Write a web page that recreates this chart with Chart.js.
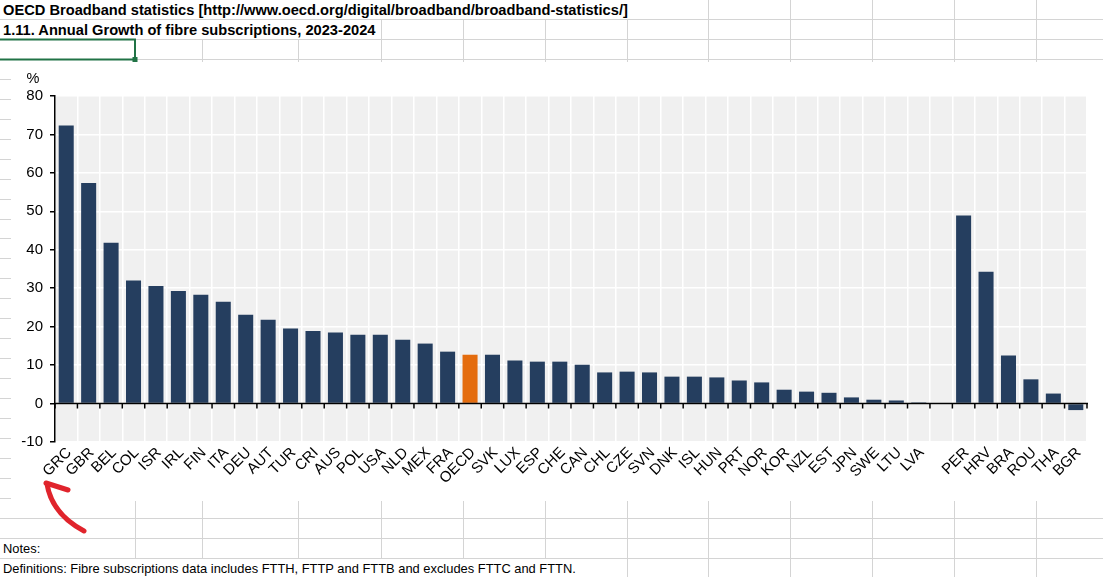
<!DOCTYPE html>
<html>
<head>
<meta charset="utf-8">
<script src="https://cdn.jsdelivr.net/npm/chart.js@4.4.1/dist/chart.umd.min.js"></script>
<style>
  html, body { margin: 0; padding: 0; background: #fff; }
  body { width: 1103px; height: 577px; position: relative; overflow: hidden; font-family: Arial, "Liberation Sans", sans-serif; }
  svg { position: absolute; left: 0; top: 0; }
  #sheet { z-index: 0; }
  #box { position: absolute; left: 11px; top: 62px; width: 1092px; height: 439px; background: #fff; z-index: 1; }
  #overlay { z-index: 2; pointer-events: none; }
</style>
</head>
<body>
<svg id="sheet" width="1103" height="577"></svg>
<div id="box"><canvas id="growthChart"></canvas></div>
<svg id="overlay" width="1103" height="577">
  <path d="M 84 531 Q 52 514 47 484" fill="none" stroke="#e0242c" stroke-width="5" stroke-linecap="round"/>
  <path d="M 46 483 L 68 490" fill="none" stroke="#e0242c" stroke-width="5" stroke-linecap="round"/>
</svg>
<script>
const categories = ['GRC', 'GBR', 'BEL', 'COL', 'ISR', 'IRL', 'FIN', 'ITA', 'DEU', 'AUT',
  'TUR', 'CRI', 'AUS', 'POL', 'USA', 'NLD', 'MEX', 'FRA', 'OECD', 'SVK',
  'LUX', 'ESP', 'CHE', 'CAN', 'CHL', 'CZE', 'SVN', 'DNK', 'ISL', 'HUN',
  'PRT', 'NOR', 'KOR', 'NZL', 'EST', 'JPN', 'SWE', 'LTU', 'LVA', '',
  'PER', 'HRV', 'BRA', 'ROU', 'THA', 'BGR'];
const growth = [72.3, 57.4, 41.8, 32.0, 30.6, 29.3, 28.3, 26.5, 23.1, 21.8,
  19.5, 18.9, 18.5, 17.9, 17.9, 16.6, 15.6, 13.5, 12.7, 12.7,
  11.2, 10.9, 10.9, 10.1, 8.1, 8.3, 8.1, 7.0, 7.0, 6.8,
  6.0, 5.5, 3.6, 3.1, 2.8, 1.6, 1.0, 0.8, 0.3, null,
  48.9, 34.3, 12.5, 6.3, 2.6, -1.7];
const yMin = -10;
const yMax = 80;
const yStep = 10;
const highlight = 'OECD';

const sheetTitle = 'OECD Broadband statistics [http://www.oecd.org/digital/broadband/broadband-statistics/]';
const chartTitle = '1.11. Annual Growth of fibre subscriptions, 2023-2024';
const notesText = 'Notes:';
const defsText = 'Definitions: Fibre subscriptions data includes FTTH, FTTP and FTTB and excludes FTTC and FTTN.';

const navy = '#253e5f';
const orange = '#e46c0e';

// spreadsheet grid behind the chart
const svgNS = 'http://www.w3.org/2000/svg';
const sheet = document.getElementById('sheet');
function line(x1, y1, x2, y2, color) {
  const l = document.createElementNS(svgNS, 'line');
  l.setAttribute('x1', x1); l.setAttribute('y1', y1);
  l.setAttribute('x2', x2); l.setAttribute('y2', y2);
  l.setAttribute('stroke', color || '#d4d4d4');
  l.setAttribute('stroke-width', 1);
  sheet.appendChild(l);
}
function text(str, x, y, bold, size) {
  const t = document.createElementNS(svgNS, 'text');
  t.setAttribute('x', x); t.setAttribute('y', y);
  t.setAttribute('font-family', 'Arial, Liberation Sans, sans-serif');
  t.setAttribute('font-size', size);
  if (bold) t.setAttribute('font-weight', 'bold');
  t.textContent = str;
  sheet.appendChild(t);
}
const cols = [135, 202, 298, 381, 463, 545, 627, 708, 790, 872, 954, 1036];
const rows = [];
for (let k = 1; k <= 28; k++) rows.push(Math.floor(19.5 + (k - 1) * 19.95) + 0.5);
rows.forEach(y => line(0, y, 1103, y));
cols.forEach(c => {
  const x = c + 0.5;
  if (c >= 708) line(x, 0, x, rows[0]);
  if (c >= 381) line(x, rows[0], x, rows[1]);
  line(x, rows[1], x, rows[27]);
  if (c >= 627) line(x, rows[27], x, 577);
});
const sel = document.createElementNS(svgNS, 'rect');
sel.setAttribute('x', -2); sel.setAttribute('y', 39.5);
sel.setAttribute('width', 137); sel.setAttribute('height', 20);
sel.setAttribute('fill', 'none'); sel.setAttribute('stroke', '#217346'); sel.setAttribute('stroke-width', 2);
sheet.appendChild(sel);
const handle = document.createElementNS(svgNS, 'rect');
handle.setAttribute('x', 132.5); handle.setAttribute('y', 57);
handle.setAttribute('width', 5); handle.setAttribute('height', 5);
handle.setAttribute('fill', '#217346');
sheet.appendChild(handle);
text(sheetTitle, 3, 15, true, 14.67);
text(chartTitle, 3, 35, true, 14.67);
text(notesText, 3, 553, false, 12.9);
text(defsText, 3, 573, false, 12.9);

const plotBg = {
  id: 'plotBg',
  beforeDraw(chart) {
    const { ctx, chartArea: a } = chart;
    ctx.save();
    ctx.fillStyle = '#f0f0f0';
    ctx.fillRect(a.left, a.top, a.right - a.left, a.bottom - a.top);
    ctx.restore();
  }
};

const zeroAxis = {
  id: 'zeroAxis',
  afterDatasetsDraw(chart) {
    const { ctx, chartArea: a, scales: { x, y } } = chart;
    const y0 = y.getPixelForValue(0);
    const half = (x.getPixelForValue(1) - x.getPixelForValue(0)) / 2;
    ctx.save();
    ctx.strokeStyle = '#000';
    ctx.lineWidth = 1.5;
    ctx.beginPath();
    ctx.moveTo(a.left, y0);
    ctx.lineTo(a.right + 1, y0);
    for (let i = 0; i <= categories.length; i++) {
      const px = x.getPixelForValue(i) - half;
      ctx.moveTo(px, y0);
      ctx.lineTo(px, y0 + 5);
    }
    ctx.stroke();
    ctx.fillStyle = '#000';
    ctx.font = '14.5px Arial';
    ctx.textAlign = 'center';
    ctx.textBaseline = 'middle';
    ctx.fillText('%', y.left + 22, a.top - 17.5);
    ctx.restore();
  }
};

const ctx = document.getElementById('growthChart').getContext('2d');
new Chart(ctx, {
  type: 'bar',
  data: {
    labels: categories,
    datasets: [{
      label: 'Growth',
      data: growth,
      backgroundColor: categories.map(c => c === highlight ? orange : navy),
      barPercentage: 0.67,
      categoryPercentage: 1.0
    }]
  },
  options: {
    responsive: true,
    maintainAspectRatio: false,
    animation: false,
    layout: { padding: { top: 34, right: 16, left: 0, bottom: 0 } },
    plugins: { legend: { display: false }, tooltip: { enabled: false } },
    scales: {
      x: {
        ticks: {
          color: '#000',
          font: { family: 'Arial', size: 15 },
          maxRotation: 45,
          minRotation: 45,
          autoSkip: false,
          padding: 2,
          labelOffset: 3
        },
        grid: { color: '#fff', lineWidth: 1.5, drawTicks: false, offset: true },
        border: { display: false },
        afterFit(s) { s.height = 59; }
      },
      y: {
        min: yMin,
        max: yMax,
        ticks: {
          stepSize: yStep,
          color: '#000',
          font: { family: 'Arial', size: 15 },
          padding: 7
        },
        grid: { color: '#fff', lineWidth: 1.5, tickColor: '#000', tickLength: 5 },
        border: { display: true, color: '#000', width: 1.5 },
        afterFit(s) { s.width = 44; }
      }
    }
  },
  plugins: [plotBg, zeroAxis]
});
</script>
</body>
</html>
